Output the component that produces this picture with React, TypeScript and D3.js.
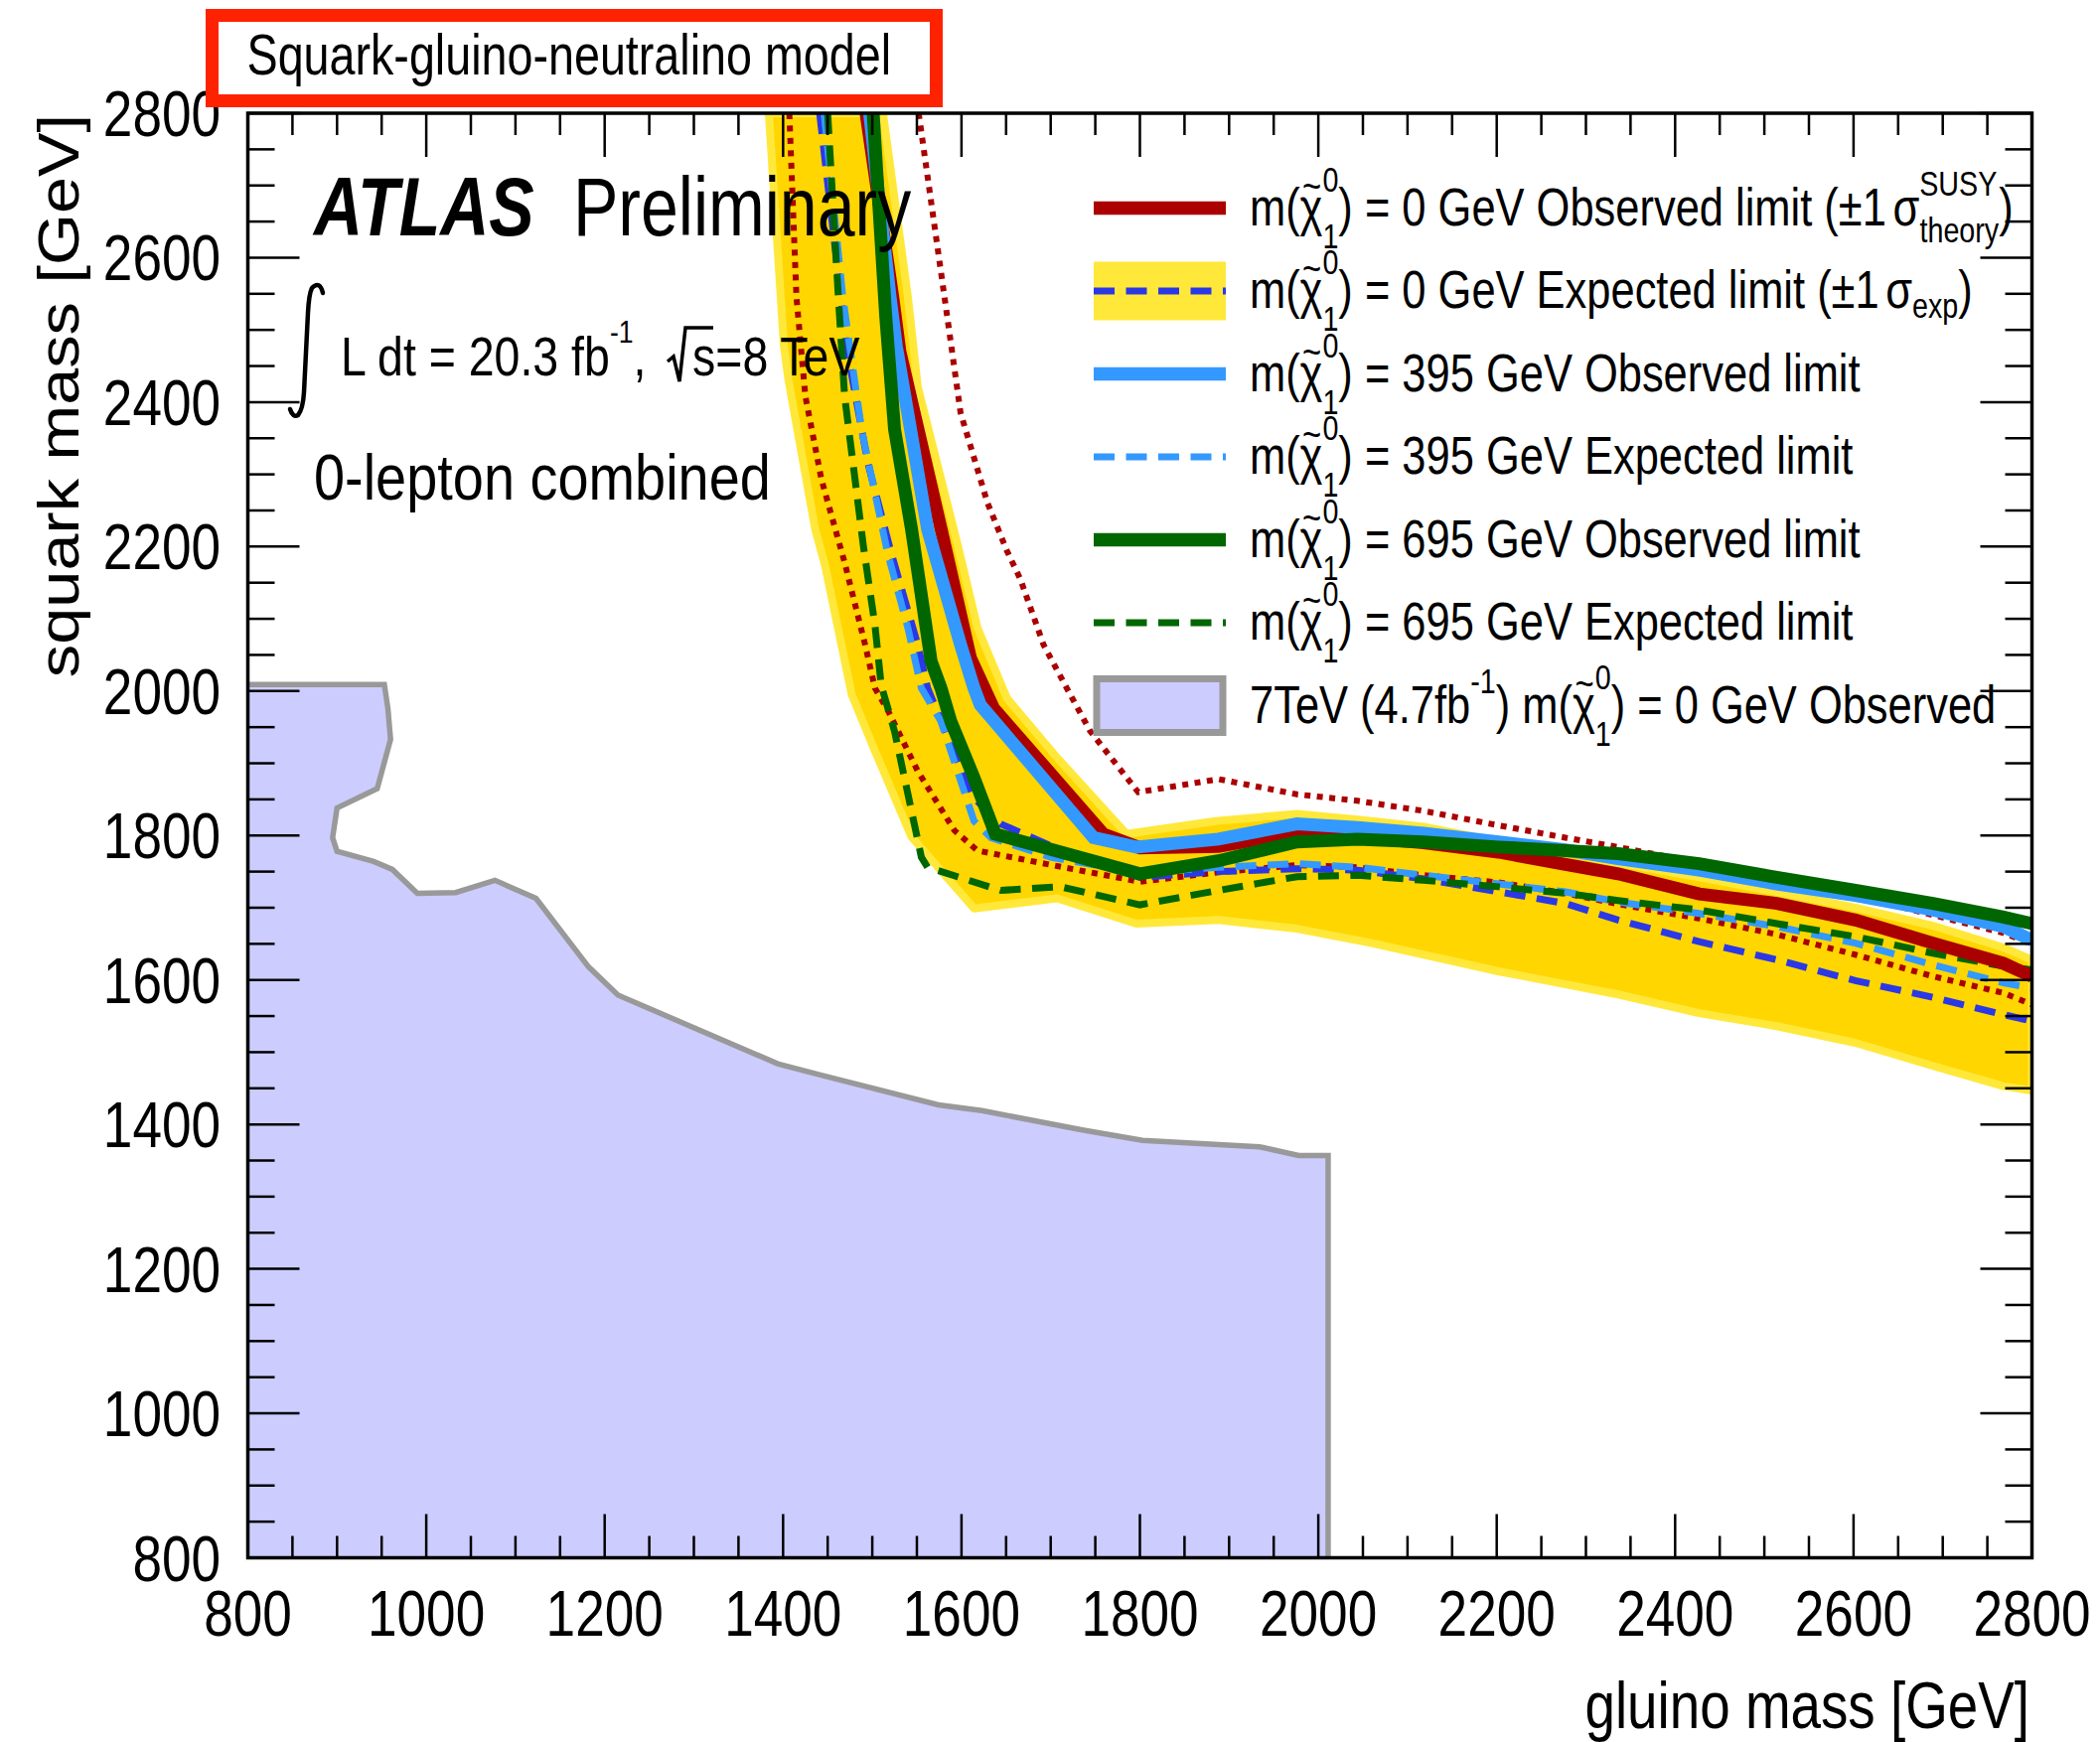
import React from 'react';
import * as d3 from 'd3';

// all masses in GeV (x = gluino mass, y = squark mass)
const xTickValues = [800, 1000, 1200, 1400, 1600, 1800, 2000, 2200, 2400, 2600, 2800];
const yTickValues = [800, 1000, 1200, 1400, 1600, 1800, 2000, 2200, 2400, 2600, 2800];

// 7 TeV (4.7 fb-1) observed exclusion
const sevenTevGluino = [800, 953, 957, 960, 945, 900, 895, 900, 941, 962, 990, 1033, 1077, 1123, 1182, 1215, 1394, 1443, 1574, 1623, 1737, 1803, 1934, 1978, 2011, 2011];
const sevenTevSquark = [2009, 2009, 1976, 1933, 1865, 1838, 1797, 1778, 1764, 1753, 1720, 1721, 1738, 1713, 1618, 1579, 1484, 1468, 1427, 1419, 1392, 1378, 1369, 1357, 1357, 800];

// expected +-1 sigma band (m_chi = 0)
const bandUpGluino = [1512, 1540, 1551, 1596, 1618, 1651, 1707, 1785, 1885, 1976, 2044, 2118, 2202, 2277, 2336, 2427, 2514, 2602, 2689, 2768, 2800];
const bandUpSquark = [2800, 2545, 2421, 2201, 2087, 1990, 1908, 1802, 1820, 1830, 1822, 1812, 1792, 1777, 1762, 1742, 1722, 1700, 1675, 1645, 1628];
const bandDownGluino = [1384, 1401, 1406, 1436, 1447, 1477, 1503, 1544, 1614, 1707, 1796, 1888, 1976, 2060, 2202, 2336, 2427, 2514, 2602, 2689, 2768, 2800];
const bandDownSquark = [2800, 2477, 2431, 2224, 2174, 1995, 1917, 1798, 1699, 1713, 1678, 1683, 1671, 1651, 1612, 1580, 1554, 1536, 1513, 1481, 1453, 1447];

// observed m_chi = 0 with theory +-1 sigma
const obs0Gluino = [1493, 1523, 1531, 1577, 1610, 1636, 1759, 1800, 1888, 1976, 2044, 2118, 2202, 2277, 2336, 2427, 2514, 2602, 2689, 2768, 2800];
const obs0Squark = [2800, 2545, 2470, 2225, 2046, 1976, 1802, 1783, 1785, 1804, 1798, 1790, 1777, 1760, 1747, 1719, 1706, 1683, 1651, 1623, 1605];
const theoUpGluino = [1552, 1581, 1599, 1629, 1651, 1666, 1692, 1718, 1744, 1798, 1888, 1976, 2044, 2118, 2202, 2277, 2336, 2427, 2514, 2602, 2689, 2768, 2800];
const theoUpSquark = [2800, 2545, 2385, 2261, 2194, 2155, 2064, 2004, 1945, 1860, 1878, 1857, 1848, 1834, 1814, 1797, 1784, 1762, 1742, 1717, 1690, 1665, 1650];
const theoDownGluino = [1407, 1415, 1425, 1443, 1469, 1492, 1503, 1518, 1551, 1592, 1618, 1714, 1800, 1888, 1976, 2044, 2118, 2202, 2277, 2336, 2427, 2514, 2602, 2689, 2768, 2800];
const theoDownSquark = [2800, 2545, 2408, 2293, 2178, 2064, 2004, 1972, 1889, 1807, 1779, 1756, 1736, 1749, 1759, 1756, 1745, 1735, 1720, 1705, 1685, 1663, 1635, 1605, 1582, 1566];

// expected m_chi = 0
const exp0Gluino = [1441, 1471, 1495, 1521, 1551, 1562, 1588, 1614, 1644, 1720, 1800, 1888, 1976, 2044, 2118, 2202, 2277, 2336, 2427, 2514, 2602, 2689, 2768, 2800];
const exp0Squark = [2800, 2477, 2316, 2192, 2064, 2004, 1926, 1852, 1816, 1775, 1742, 1750, 1754, 1752, 1740, 1722, 1706, 1683, 1653, 1628, 1599, 1576, 1552, 1543];

// m_chi = 395
const obs395Gluino = [1497, 1520, 1527, 1562, 1599, 1614, 1621, 1748, 1796, 1888, 1976, 2044, 2118, 2202, 2277, 2336, 2427, 2514, 2602, 2689, 2768, 2800];
const obs395Squark = [2800, 2545, 2477, 2224, 2064, 2004, 1981, 1797, 1784, 1795, 1816, 1811, 1803, 1791, 1780, 1768, 1752, 1733, 1717, 1697, 1674, 1655];
const exp395Gluino = [1446, 1467, 1488, 1517, 1540, 1555, 1577, 1614, 1633, 1700, 1800, 1888, 1976, 2044, 2118, 2202, 2277, 2336, 2427, 2514, 2602, 2689, 2768, 2800];
const exp395Squark = [2800, 2545, 2362, 2192, 2087, 2004, 1958, 1820, 1797, 1770, 1748, 1756, 1761, 1756, 1745, 1733, 1722, 1708, 1692, 1674, 1651, 1621, 1596, 1589];

// m_chi = 695
const obs695Gluino = [1501, 1515, 1525, 1544, 1566, 1577, 1588, 1614, 1638, 1800, 1888, 1976, 2044, 2118, 2202, 2277, 2336, 2427, 2514, 2602, 2689, 2768, 2800];
const obs695Squark = [2800, 2520, 2362, 2224, 2041, 2004, 1958, 1880, 1802, 1747, 1765, 1791, 1795, 1791, 1784, 1779, 1775, 1761, 1742, 1724, 1706, 1687, 1678];
const exp695Gluino = [1450, 1462, 1469, 1490, 1503, 1510, 1525, 1555, 1562, 1644, 1711, 1800, 1888, 1976, 2044, 2118, 2202, 2277, 2336, 2427, 2514, 2602, 2689, 2768, 2800];
const exp695Squark = [2800, 2545, 2408, 2201, 2091, 2008, 1944, 1770, 1756, 1724, 1729, 1704, 1724, 1743, 1745, 1738, 1729, 1720, 1710, 1697, 1678, 1660, 1637, 1619, 1614];

const legendMasses = ['0', '0', '395', '395', '695', '695'];
const legendKinds = ['Observed limit', 'Expected limit', 'Observed limit', 'Expected limit', 'Observed limit', 'Expected limit'];

const W = 2114;
const H = 1754;
const SX = 0.83; // fonts in the original are squeezed
const FONT = 'Liberation Sans, Arial, Helvetica, sans-serif';

const RED = '#aa0000';
const BLUE = '#3399ff';
const DBLUE = '#2a38e6';
const GREEN = '#006600';

const x = d3.scaleLinear().domain([800, 2800]).range([249.5, 2045.5]);
const y = d3.scaleLinear().domain([800, 2800]).range([1568.5, 114]);

const zip = (a: number[], b: number[]) => a.map((v, i) => [v, b[i]] as [number, number]);
const line = d3.line<[number, number]>().x(d => x(d[0])).y(d => y(d[1]));

function Txt(props: any) {
  const { x: tx, y: ty, size, anchor, sx, children, ...rest } = props;
  return (
    <text transform={`translate(${tx},${ty}) scale(${sx || SX},1)`} fontSize={size}
      textAnchor={anchor || 'start'} fontFamily={FONT} fill="#000" {...rest}>
      {children}
    </text>
  );
}

// m(chi~^0_1) pieces, chained with dy so the baseline comes back
function chi() {
  return [
    <tspan key="t" fontSize={40} dx={3} dy={-26}>~</tspan>,
    <tspan key="c" fontSize={53} dx={-26.4} dy={26}>χ</tspan>,
    <tspan key="s" fontSize={35} dy={-34}>0</tspan>,
    <tspan key="b" fontSize={35} dx={-19.5} dy={57}>1</tspan>,
    <tspan key="r" fontSize={53} dy={-23}>)</tspan>,
  ];
}

export default function App() {
  const [x0, x1] = x.range();
  const [yb, yt] = y.range();

  const sevenPts = zip(sevenTevGluino, sevenTevSquark);
  const sevenFill = line([...sevenPts, [800, 800]]) + 'Z';
  const sevenEdge = line(sevenPts);
  const band = line([...zip(bandUpGluino, bandUpSquark), ...zip(bandDownGluino, bandDownSquark).reverse()]) + 'Z';

  const curves = [
    { d: line(zip(theoUpGluino, theoUpSquark)), c: RED, w: 6, dash: '6 6.5' },
    { d: line(zip(theoDownGluino, theoDownSquark)), c: RED, w: 6, dash: '6 6.5' },
    { d: line(zip(exp0Gluino, exp0Squark)), c: DBLUE, w: 7, dash: '21 11.5' },
    { d: line(zip(exp395Gluino, exp395Squark)), c: BLUE, w: 7, dash: '21 11.5' },
    { d: line(zip(exp695Gluino, exp695Squark)), c: GREEN, w: 7, dash: '21 11.5' },
    { d: line(zip(obs0Gluino, obs0Squark)), c: RED, w: 13, dash: null },
    { d: line(zip(obs395Gluino, obs395Squark)), c: BLUE, w: 13, dash: null },
    { d: line(zip(obs695Gluino, obs695Squark)), c: GREEN, w: 13, dash: null },
  ];

  const minorX = d3.range(800, 2801, 50);
  const minorY = d3.range(800, 2801, 50);

  const legX0 = 1101, legX1 = 1234, legText = 1258;
  const rowY = (i: number) => 209.5 + i * 83.5;
  const legStyles = [
    { c: RED, w: 13.5, dash: null },
    { c: DBLUE, w: 7, dash: '21 11.5' },
    { c: BLUE, w: 13.5, dash: null },
    { c: BLUE, w: 7, dash: '21 11.5' },
    { c: GREEN, w: 13.5, dash: null },
    { c: GREEN, w: 7, dash: '21 11.5' },
  ];

  return (
    <svg width={W} height={H} viewBox={`0 0 ${W} ${H}`}
      style={{ position: 'absolute', left: 0, top: 0, background: '#fff' }}>
      <defs>
        <clipPath id="plotArea">
          <rect x={x0} y={yt} width={x1 - x0} height={yb - yt} />
        </clipPath>
      </defs>
      <rect x={0} y={0} width={W} height={H} fill="#fff" />

      <g clipPath="url(#plotArea)">
        <path d={sevenFill} fill="#ccccff" stroke="none" />
        <path d={sevenEdge} fill="none" stroke="#999999" strokeWidth={5.5} />
        <path d={band} fill="#ffd600" stroke="#ffe83a" strokeWidth={8} strokeLinejoin="round" />
        {curves.map((c, i) => (
          <path key={i} d={c.d} fill="none" stroke={c.c} strokeWidth={c.w}
            strokeDasharray={c.dash || undefined} strokeLinejoin="miter" />
        ))}
      </g>

      {/* ticks on all four sides */}
      <g stroke="#000" strokeWidth={2.5}>
        {minorX.map(v => {
          const len = v % 200 === 0 ? 44 : 22;
          return (
            <g key={'x' + v}>
              <line x1={x(v)} x2={x(v)} y1={yb} y2={yb - len} />
              <line x1={x(v)} x2={x(v)} y1={yt} y2={yt + len} />
            </g>
          );
        })}
        {minorY.map(v => {
          const len = v % 200 === 0 ? 52 : 27;
          return (
            <g key={'y' + v}>
              <line x1={x0} x2={x0 + len} y1={y(v)} y2={y(v)} />
              <line x1={x1} x2={x1 - len} y1={y(v)} y2={y(v)} />
            </g>
          );
        })}
      </g>
      <rect x={x0} y={yt} width={x1 - x0} height={yb - yt} fill="none" stroke="#000" strokeWidth={3.5} />

      {xTickValues.map(v => (
        <Txt key={'xl' + v} x={x(v)} y={1647} size={64} anchor="middle">{v}</Txt>
      ))}
      {yTickValues.map(v => (
        <Txt key={'yl' + v} x={222} y={y(v) + 23} size={64} anchor="end">{v}</Txt>
      ))}

      <Txt x={2043} y={1740} size={66} anchor="end">gluino mass [GeV]</Txt>
      <text transform={`translate(78.5,115) rotate(-90) scale(1.15,1)`} fontSize={58}
        textAnchor="end" fontFamily={FONT}>squark mass [GeV]</text>

      {/* title box */}
      <rect x={213.5} y={15.5} width={729} height={86} fill="#fff" stroke="#ff2200" strokeWidth={13} />
      <Txt x={248.5} y={75} size={58} sx={0.805}>Squark-gluino-neutralino model</Txt>

      <Txt x={316} y={237} size={84} sx={0.81} fontWeight="bold" fontStyle="italic">ATLAS</Txt>
      <Txt x={577} y={237} size={84} sx={0.81}>Preliminary</Txt>

      <path d="M 325 295 Q 322 282 314 290 Q 311 296 310 315 L 306 395 Q 305 412 300 418 Q 295 421 292 412"
        fill="none" stroke="#000" strokeWidth={4.5} strokeLinecap="round" />
      <Txt x={343} y={378} size={56}>
        L dt = 20.3 fb
        <tspan fontSize={32} dy={-33}>-1</tspan>
        <tspan fontSize={56} dy={33}>,</tspan>
      </Txt>
      <path d="M 672 364 L 678 359 L 684 384 L 690 330 L 718 330" fill="none" stroke="#000" strokeWidth={3.5} />
      <Txt x={697} y={378} size={56}>s=8 TeV</Txt>
      <Txt x={316} y={503} size={65} sx={0.86}>0-lepton combined</Txt>

      {/* legend */}
      <rect x={legX0} y={rowY(1) - 29.5} width={legX1 - legX0} height={59} fill="#ffe83a" />
      {legStyles.map((s, i) => (
        <line key={'ls' + i} x1={legX0} x2={legX1} y1={rowY(i)} y2={rowY(i)} stroke={s.c}
          strokeWidth={s.w} strokeDasharray={s.dash || undefined} />
      ))}
      <rect x={legX0 + 3} y={rowY(6) - 27} width={legX1 - legX0 - 6} height={54} fill="#ccccff" stroke="#999999" strokeWidth={7} />

      {legendMasses.map((m, i) => (
        <Txt key={'lt' + i} x={legText} y={rowY(i) + 17} size={53} sx={0.82}>
          m(
          {chi()}
          <tspan>{` = ${m} GeV ${legendKinds[i]}`}</tspan>
          {i === 0 && [
            <tspan key="a">{' (±1'}</tspan>,
            <tspan key="b" dx={8}>σ</tspan>,
            <tspan key="c" fontSize={35} dy={-30}>SUSY</tspan>,
            <tspan key="d" fontSize={35} dx={-95} dy={47}>theory</tspan>,
            <tspan key="e" fontSize={53} dy={-17}>)</tspan>,
          ]}
          {i === 1 && [
            <tspan key="a">{' (±1'}</tspan>,
            <tspan key="b" dx={8}>σ</tspan>,
            <tspan key="c" fontSize={35} dy={10}>exp</tspan>,
            <tspan key="e" fontSize={53} dy={-10}>)</tspan>,
          ]}
        </Txt>
      ))}
      <Txt x={legText} y={rowY(6) + 17} size={53} sx={0.82}>
        7TeV (4.7fb
        <tspan fontSize={35} dy={-30}>-1</tspan>
        <tspan fontSize={53} dy={30}>{') m('}</tspan>
        {chi()}
        <tspan>{' = 0 GeV Observed'}</tspan>
      </Txt>
    </svg>
  );
}
